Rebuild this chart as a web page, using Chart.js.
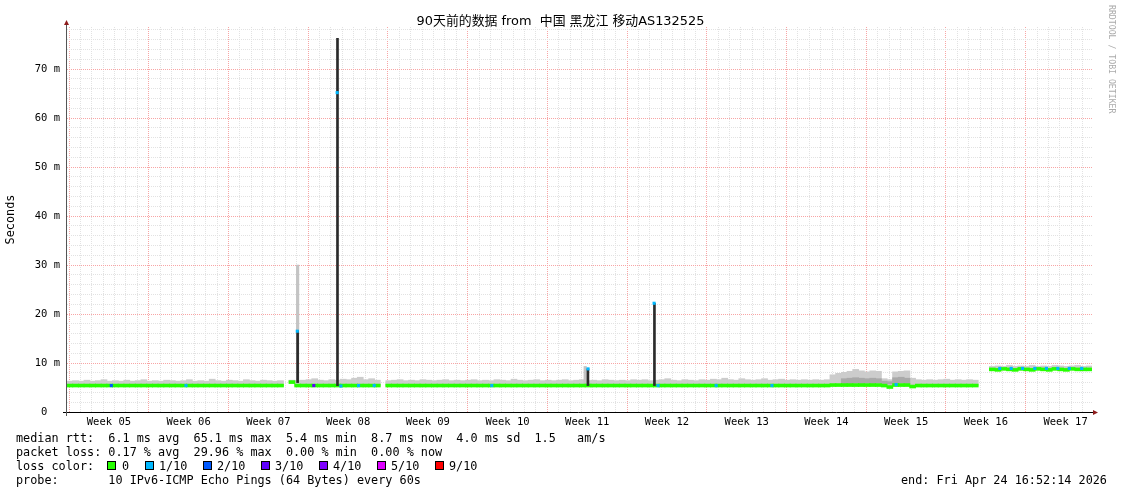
<!DOCTYPE html>
<html>
<head>
<meta charset="utf-8">
<title>SmokePing 90 days</title>
<script src="https://cdn.jsdelivr.net/npm/chart.js@4.4.1/dist/chart.umd.min.js"></script>
<style>
  body { margin: 0; background: #fff; }
  #wrap { position: relative; width: 1121px; height: 494px; overflow: hidden; font-family: 'DejaVu Sans Mono', monospace; color: #000; }
  #chart { position: absolute; left: 0; top: 0; }
  .title { position: absolute; left: 0; width: 1121px; top: 13px; line-height: 16px; text-align: center; font-size: 12.9px; font-family: 'DejaVu Sans', 'Noto Sans CJK SC', sans-serif; white-space: pre; }
  .txt { position: absolute; font-size: 11.8px; line-height: 14px; white-space: pre; }
  .box { position: absolute; top: 461px; width: 7px; height: 7px; border: 1px solid #000; }
  .credit { position: absolute; left: 1107px; top: 5px; writing-mode: vertical-rl; font-size: 8.2px; color: #aaa; white-space: pre; }
</style>
</head>
<body>
<div id="wrap">
  <canvas id="chart" width="1121" height="494"></canvas>
  <div class="title">90天前的数据 from  中国 黑龙江 移动AS132525</div>
  <div class="credit">RRDTOOL / TOBI OETIKER</div>

  <div class="txt" style="left:16px; top:431px">median rtt:  6.1 ms avg  65.1 ms max  5.4 ms min  8.7 ms now  4.0 ms sd  1.5   am/s</div>
  <div class="txt" style="left:16px; top:445px">packet loss: 0.17 % avg  29.96 % max  0.00 % min  0.00 % now</div>
  <div class="txt" style="left:16px; top:459px">loss color:</div>
  <div class="box" style="left:107px; background:#26ff00"></div><div class="txt" style="left:122px; top:459px">0</div>
  <div class="box" style="left:145px; background:#00b8ff"></div><div class="txt" style="left:159px; top:459px">1/10</div>
  <div class="box" style="left:203px; background:#0059ff"></div><div class="txt" style="left:217px; top:459px">2/10</div>
  <div class="box" style="left:261px; background:#5e00ff"></div><div class="txt" style="left:275px; top:459px">3/10</div>
  <div class="box" style="left:319px; background:#7e00ff"></div><div class="txt" style="left:333px; top:459px">4/10</div>
  <div class="box" style="left:377px; background:#dd00ff"></div><div class="txt" style="left:391px; top:459px">5/10</div>
  <div class="box" style="left:435px; background:#ff0000"></div><div class="txt" style="left:449px; top:459px">9/10</div>
  <div class="txt" style="left:16px; top:473px">probe:       10 IPv6-ICMP Echo Pings (64 Bytes) every 60s</div>
  <div class="txt" style="left:901px; top:473px">end: Fri Apr 24 16:52:14 2026</div>
</div>

<script>
// time axis: 90 days, week boundaries (Monday) and week labels
const spanDays = 90;
const firstWeekStart = 0.18;
const weekLabels = ['Week 05', 'Week 06', 'Week 07', 'Week 08', 'Week 09', 'Week 10', 'Week 11',
                    'Week 12', 'Week 13', 'Week 14', 'Week 15', 'Week 16', 'Week 17'];

// y axis grid (ms) and labelled ticks
const yMaxMs = 78.6;
const yGridMs = [0, 2, 4, 6, 8, 10, 12, 14, 16, 18, 20, 22, 24, 26, 28, 30, 32, 34, 36, 38,
                 40, 42, 44, 46, 48, 50, 52, 54, 56, 58, 60, 62, 64, 66, 68, 70, 72, 74, 76, 78];
const yLabelMs = [0, 10, 20, 30, 40, 50, 60, 70];
const yLabelText = ['0  ', '10 m', '20 m', '30 m', '40 m', '50 m', '60 m', '70 m'];

// half-day cells, 180 of them: median rtt (ms) and top of the smoke (ms)
const cellDays = 0.5;
const medianMs = [
  5.4, 5.4, 5.4, 5.4, 5.4, 5.4, 5.4, 5.4, 5.4, 5.4,
  5.4, 5.4, 5.4, 5.4, 5.4, 5.4, 5.4, 5.4, 5.4, 5.4,
  5.4, 5.4, 5.4, 5.4, 5.4, 5.4, 5.4, 5.4, 5.4, 5.4,
  5.4, 5.4, 5.4, 5.4, 5.4, 5.4, 5.4, 5.4, null, 6.1,
  5.4, 5.4, 5.4, 5.4, 5.4, 5.4, 5.4, 5.4, 5.4, 5.4,
  5.4, 5.4, 5.4, 5.4, 5.4, null, 5.4, 5.4, 5.4, 5.4,
  5.4, 5.4, 5.4, 5.4, 5.4, 5.4, 5.4, 5.4, 5.4, 5.4,
  5.4, 5.4, 5.4, 5.4, 5.4, 5.4, 5.4, 5.4, 5.4, 5.4,
  5.4, 5.4, 5.4, 5.4, 5.4, 5.4, 5.4, 5.4, 5.4, 5.4,
  5.4, 5.4, 5.4, 5.4, 5.4, 5.4, 5.4, 5.4, 5.4, 5.4,
  5.4, 5.4, 5.4, 5.4, 5.4, 5.4, 5.4, 5.4, 5.4, 5.4,
  5.4, 5.4, 5.4, 5.4, 5.4, 5.4, 5.4, 5.4, 5.4, 5.4,
  5.4, 5.4, 5.4, 5.4, 5.4, 5.4, 5.4, 5.4, 5.4, 5.4,
  5.4, 5.4, 5.4, 5.4, 5.5, 5.5, 5.5, 5.5, 5.5, 5.5,
  5.5, 5.5, 5.5, 5.4, 5.1, 5.5, 5.5, 5.5, 5.2, 5.4,
  5.4, 5.4, 5.4, 5.4, 5.4, 5.4, 5.4, 5.4, 5.4, 5.4,
  null, null, 8.7, 8.6, 8.8, 8.7, 8.6, 8.8, 8.7, 8.6,
  8.8, 8.7, 8.6, 8.8, 8.7, 8.6, 8.8, 8.7, 8.7, 8.7
];
const smokeHiMs = [
  6.3, 6.4, 6.3, 6.5, 6.3, 6.4, 6.6, 6.3, 6.4, 6.3,
  6.5, 6.3, 6.4, 6.6, 6.3, 6.4, 6.3, 6.5, 6.4, 6.3,
  6.4, 6.6, 6.3, 6.4, 6.3, 6.7, 6.4, 6.3, 6.5, 6.4,
  6.3, 6.6, 6.4, 6.3, 6.5, 6.4, 6.3, 6.4, null, 6.5,
  6.4, 6.5, 6.6, 6.8, 6.5, 6.4, 6.6, 6.5, 6.7, 6.6,
  6.9, 7.1, 6.6, 6.8, 6.5, null, 6.4, 6.5, 6.6, 6.4,
  6.5, 6.4, 6.6, 6.5, 6.4, 6.5, 6.6, 6.4, 6.5, 6.4,
  6.5, 6.6, 6.4, 6.5, 6.4, 6.6, 6.5, 6.4, 6.7, 6.5,
  6.4, 6.5, 6.6, 6.4, 6.5, 6.4, 6.5, 6.6, 6.4, 6.5,
  6.6, 6.4, 6.5, 6.4, 6.6, 6.5, 6.4, 6.5, 6.4, 6.6,
  6.5, 6.6, 6.4, 6.5, 6.6, 6.8, 6.5, 6.4, 6.6, 6.5,
  6.4, 6.6, 6.5, 6.7, 6.6, 6.9, 6.6, 6.5, 6.8, 6.6,
  6.5, 6.6, 6.8, 6.5, 6.6, 6.7, 6.5, 6.6, 6.5, 6.6,
  6.5, 6.6, 6.5, 6.6, 7.6, 7.9, 8.1, 8.3, 8.7, 8.4,
  8.2, 8.4, 8.3, 6.8, 6.6, 8.2, 8.3, 8.4, 6.9, 6.6,
  6.5, 6.6, 6.5, 6.6, 6.7, 6.5, 6.6, 6.5, 6.6, 6.5,
  null, null, 9.3, 9.4, 9.3, 9.5, 9.3, 9.4, 9.3, 9.5,
  9.3, 9.4, 9.3, 9.5, 9.4, 9.3, 9.4, 9.5, 9.3, 9.4
];

// denser (darker) smoke band in weeks 14-15
const denseDays = [68.25, 68.75, 69.25, 69.75, 70.25, 70.75, 71.25, 71.75, 72.25, 72.75, 73.25, 73.75];
const denseLoMs = [5.8, 5.8, 5.9, 5.8, 5.9, 5.8, 5.9, 5.8, 5.7, 5.8, 5.9, 5.8];
const denseHiMs = [6.8, 6.9, 7.0, 6.9, 6.8, 6.9, 6.8, 6.3, 6.2, 7.0, 7.1, 6.9];

// short spikes
const spikeSmokeDays = [20.25, 45.5];
const spikeSmokeLoMs = [6.0, 5.6];
const spikeSmokeHiMs = [30.0, 9.3];
const spikeCoreDays = [20.25, 23.75, 45.74, 51.58];
const spikeCoreLoMs = [6.0, 5.4, 5.4, 5.4];
const spikeCoreHiMs = [16.6, 76.3, 8.8, 22.2];

// samples with packet loss (level in tenths)
const lossDays = [3.89, 10.45, 20.22, 21.67, 23.72, 24.05, 25.6, 26.97, 37.3, 45.75, 51.55, 51.9,
                  57.0, 61.9, 72.8, 81.9, 82.9, 83.9, 84.98, 86.0, 87.0, 88.0, 89.1];
const lossMs = [5.4, 5.4, 16.5, 5.4, 65.2, 5.3, 5.4, 5.4, 5.4, 8.8, 22.2, 5.4,
                5.4, 5.4, 5.6, 8.9, 8.9, 8.9, 8.9, 8.9, 8.9, 8.9, 8.9];
const lossLevel = [2, 1, 1, 3, 1, 1, 1, 1, 1, 1, 1, 1,
                   1, 1, 1, 1, 1, 1, 1, 1, 1, 1, 1];
const lossColors = { 0: '#26ff00', 1: '#00b8ff', 2: '#0059ff', 3: '#5e00ff', 4: '#7e00ff', 5: '#dd00ff', 9: '#ff0000' };

const monoFont = "'DejaVu Sans Mono', monospace";
const gridGray = 'rgb(226, 226, 226)';
const gridRed = 'rgb(248, 165, 165)';
const noLine = 'rgba(255, 255, 255, 0)';

// x ticks every half day, grid on whole days, labels mid-week
const xTicks = [];
weekLabels.forEach((_, w) => {
    for (let h = 0; h < 14; h++) {
        const v = firstWeekStart + w * 7 + h * 0.5;
        if (v <= spanDays) xTicks.push(v);
    }
});

const cells = [];
medianMs.forEach((m, i) => {
    if (m === null) return;
    cells.push({ x: i * cellDays + cellDays / 2, m: m, hi: smokeHiMs[i] });
});

const axisLines = {
    id: 'axisLines',
    afterDatasetsDraw(chart) {
        const { ctx, chartArea: a } = chart;
        ctx.save();
        ctx.lineWidth = 1;
        ctx.strokeStyle = '#000';
        ctx.beginPath();
        ctx.moveTo(a.left - 4, a.bottom + 0.5);
        ctx.lineTo(a.right + 2, a.bottom + 0.5);
        ctx.stroke();
        ctx.strokeStyle = '#555';
        ctx.beginPath();
        ctx.moveTo(a.left - 0.5, a.bottom + 4);
        ctx.lineTo(a.left - 0.5, a.top - 2);
        ctx.stroke();
        ctx.fillStyle = '#8e1c1c';
        ctx.beginPath();
        ctx.moveTo(a.right + 1, a.bottom - 2);
        ctx.lineTo(a.right + 6, a.bottom + 0.5);
        ctx.lineTo(a.right + 1, a.bottom + 3);
        ctx.fill();
        ctx.beginPath();
        ctx.moveTo(a.left - 3, a.top - 2);
        ctx.lineTo(a.left - 0.5, a.top - 7);
        ctx.lineTo(a.left + 2, a.top - 2);
        ctx.fill();
        ctx.restore();
    }
};

const barDefaults = { type: 'bar', stack: 'all', borderWidth: 0, grouped: true };

new Chart(document.getElementById('chart'), {
    type: 'bar',
    data: {
        datasets: [
            Object.assign({}, barDefaults, {
                label: 'smoke',
                data: cells.map(c => ({ x: c.x, y: [c.m, c.hi] })),
                backgroundColor: '#cccccc',
                barThickness: 6,
                order: 6
            }),
            Object.assign({}, barDefaults, {
                label: 'dense smoke',
                data: denseDays.map((d, i) => ({ x: d, y: [denseLoMs[i], denseHiMs[i]] })),
                backgroundColor: '#a9a9a9',
                barThickness: 6,
                order: 5
            }),
            Object.assign({}, barDefaults, {
                label: 'spike smoke',
                data: spikeSmokeDays.map((d, i) => ({ x: d, y: [spikeSmokeLoMs[i], spikeSmokeHiMs[i]] })),
                backgroundColor: '#c4c4c4',
                barThickness: 2.5,
                order: 4
            }),
            Object.assign({}, barDefaults, {
                label: 'median',
                data: cells.map(c => ({ x: c.x, y: [c.m - 0.3, c.m + 0.3] })),
                backgroundColor: lossColors[0],
                barThickness: 6,
                order: 3
            }),
            Object.assign({}, barDefaults, {
                label: 'spike',
                data: spikeCoreDays.map((d, i) => ({ x: d, y: [spikeCoreLoMs[i], spikeCoreHiMs[i]] })),
                backgroundColor: '#2b2b2b',
                barThickness: 2,
                order: 2
            }),
            {
                type: 'scatter',
                label: 'loss',
                data: lossDays.map((d, i) => ({ x: d, y: lossMs[i] })),
                pointStyle: 'rect',
                pointRadius: 2.2,
                pointBorderWidth: 0,
                pointBackgroundColor: lossLevel.map(l => lossColors[l]),
                order: 1
            }
        ]
    },
    options: {
        responsive: false,
        animation: false,
        events: [],
        layout: { padding: { top: 27, right: 29, bottom: 0, left: 0 } },
        plugins: { legend: { display: false }, tooltip: { enabled: false } },
        scales: {
            x: {
                type: 'linear',
                min: 0,
                max: spanDays,
                offset: false,
                afterBuildTicks: s => { s.ticks = xTicks.map(v => ({ value: v })); },
                afterFit: s => { s.height = 82; },
                grid: {
                    offset: false,
                    drawTicks: false,
                    // red on week starts, grey on each day, nothing at half days
                    color: c => c.index % 14 === 0 ? gridRed : (c.index % 2 === 0 ? gridGray : noLine)
                },
                border: { display: false, dash: [1, 1] },
                ticks: {
                    autoSkip: false,
                    maxRotation: 0,
                    padding: 4,
                    color: '#000',
                    font: { family: monoFont, size: 10.5 },
                    callback: (v, i) => i % 14 === 7 ? weekLabels[(i - 7) / 14] : ''
                }
            },
            y: {
                min: 0,
                max: yMaxMs,
                stacked: false,
                afterBuildTicks: s => { s.ticks = yGridMs.map(v => ({ value: v })); },
                afterFit: s => { s.width = 67; },
                grid: {
                    drawTicks: false,
                    color: c => c.index === 0 ? noLine : (c.index % 5 === 0 ? gridRed : gridGray)
                },
                border: { display: false, dash: [1, 1] },
                ticks: {
                    autoSkip: false,
                    padding: 7,
                    color: '#000',
                    font: { family: monoFont, size: 10.5 },
                    callback: v => {
                        const k = yLabelMs.indexOf(v);
                        return k < 0 ? '' : yLabelText[k];
                    }
                },
                title: {
                    display: true,
                    text: 'Seconds',
                    color: '#000',
                    font: { family: monoFont, size: 11.85 },
                    padding: { top: 4, bottom: 0 }
                }
            }
        }
    },
    plugins: [axisLines]
});
</script>
</body>
</html>
